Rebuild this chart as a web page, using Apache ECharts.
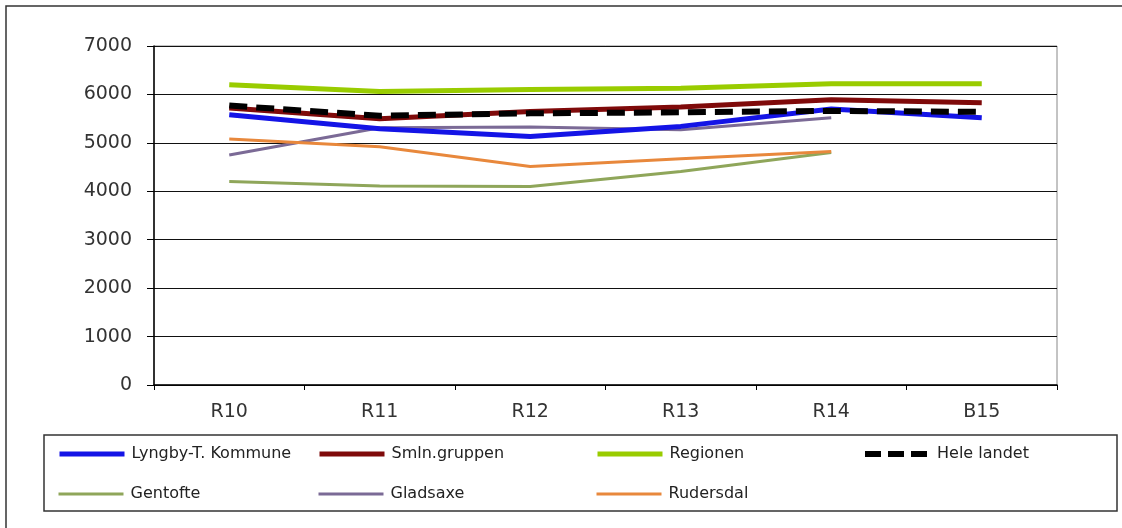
<!DOCTYPE html>
<html>
<head>
<meta charset="utf-8">
<script src="https://cdn.jsdelivr.net/npm/echarts@6/dist/echarts.min.js"></script>
<style>html,body{margin:0;padding:0;background:#fff;}#c{width:1122px;height:528px;}</style>
</head>
<body>
<div id="c"></div>
<script>
const categories = ['R10', 'R11', 'R12', 'R13', 'R14', 'B15'];
const yTicks = [0, 1000, 2000, 3000, 4000, 5000, 6000, 7000];

const lyngby     = [5580, 5290, 5130, 5340, 5700, 5520];
const smln       = [5720, 5500, 5650, 5740, 5890, 5830];
const regionen   = [6200, 6060, 6100, 6130, 6220, 6220];
const heleLandet = [5770, 5560, 5610, 5630, 5660, 5640];
const gentofte   = [4200, 4110, 4100, 4410, 4800, null];
const gladsaxe   = [4750, 5310, 5330, 5270, 5520, null];
const rudersdal  = [5080, 4920, 4510, 4670, 4820, null];

const seriesDefs = [
  {name: 'Lyngby-T. Kommune', data: lyngby, color: '#1414E6', width: 5, z: 6, lx: 57, ly: 446},
  {name: 'Smln.gruppen', data: smln, color: '#7F0A0A', width: 5, z: 5, lx: 317, ly: 446},
  {name: 'Regionen', data: regionen, color: '#99CC00', width: 5, z: 4, lx: 595, ly: 446},
  {name: 'Hele landet', data: heleLandet, color: '#000000', width: 6, z: 7, dash: [18, 9], lx: 862, ly: 446},
  {name: 'Gentofte', data: gentofte, color: '#8FA65A', width: 3, z: 3, lx: 57, ly: 486},
  {name: 'Gladsaxe', data: gladsaxe, color: '#7B6A96', width: 3, z: 3, lx: 317, ly: 486},
  {name: 'Rudersdal', data: rudersdal, color: '#E8883C', width: 3, z: 3, lx: 595, ly: 486}
];

const chart = echarts.init(document.getElementById('c'));
chart.setOption({
  backgroundColor: '#fff',
  animation: false,
  graphic: [
    {type: 'rect', shape: {x: 6, y: 6, width: 1140, height: 540}, style: {fill: 'none', stroke: '#333', lineWidth: 1.5}, z: 0},
    {type: 'rect', shape: {x: 44, y: 435, width: 1073, height: 76}, style: {fill: 'none', stroke: '#333', lineWidth: 1.5}, z: 0}
  ],
  grid: {left: 154, right: 65, top: 46, bottom: 143, show: true, borderColor: '#888', borderWidth: 1, backgroundColor: 'transparent'},
  legend: seriesDefs.map(s => ({
    data: [s.name],
    left: s.lx, top: s.ly,
    itemWidth: 65, itemHeight: 18,
    padding: 0,
    itemStyle: {opacity: 0},
    lineStyle: {width: s.width, type: s.dash ? [16, 7] : 'solid', cap: 'butt'},
    textStyle: {fontFamily: 'DejaVu Sans', fontSize: 16, color: '#222', padding: [0, 0, 0, 2]}
  })),
  xAxis: {
    type: 'category',
    data: categories,
    boundaryGap: true,
    axisLine: {lineStyle: {color: '#000', width: 1.5}},
    axisTick: {show: true, length: 5, lineStyle: {color: '#000'}},
    axisLabel: {fontFamily: 'DejaVu Sans', fontSize: 19, color: '#333', margin: 18},
    splitLine: {show: false}
  },
  yAxis: {
    type: 'value',
    min: yTicks[0], max: yTicks[yTicks.length - 1], interval: 1000,
    axisLine: {show: true, lineStyle: {color: '#000', width: 1.5}},
    axisTick: {show: true, length: 7, lineStyle: {color: '#000'}},
    axisLabel: {fontFamily: 'DejaVu Sans', fontSize: 19, color: '#333', margin: 22, formatter: v => String(v)},
    splitLine: {show: true, lineStyle: {color: '#111', width: 1.2}}
  },
  series: seriesDefs.map(s => ({
    name: s.name,
    type: 'line',
    data: s.data,
    symbol: 'none',
    showSymbol: false,
    z: s.z,
    connectNulls: false,
    color: s.color,
    lineStyle: {color: s.color, width: s.width, type: s.dash ? s.dash : 'solid', cap: 'butt'}
  }))
});
</script>
</body>
</html>
